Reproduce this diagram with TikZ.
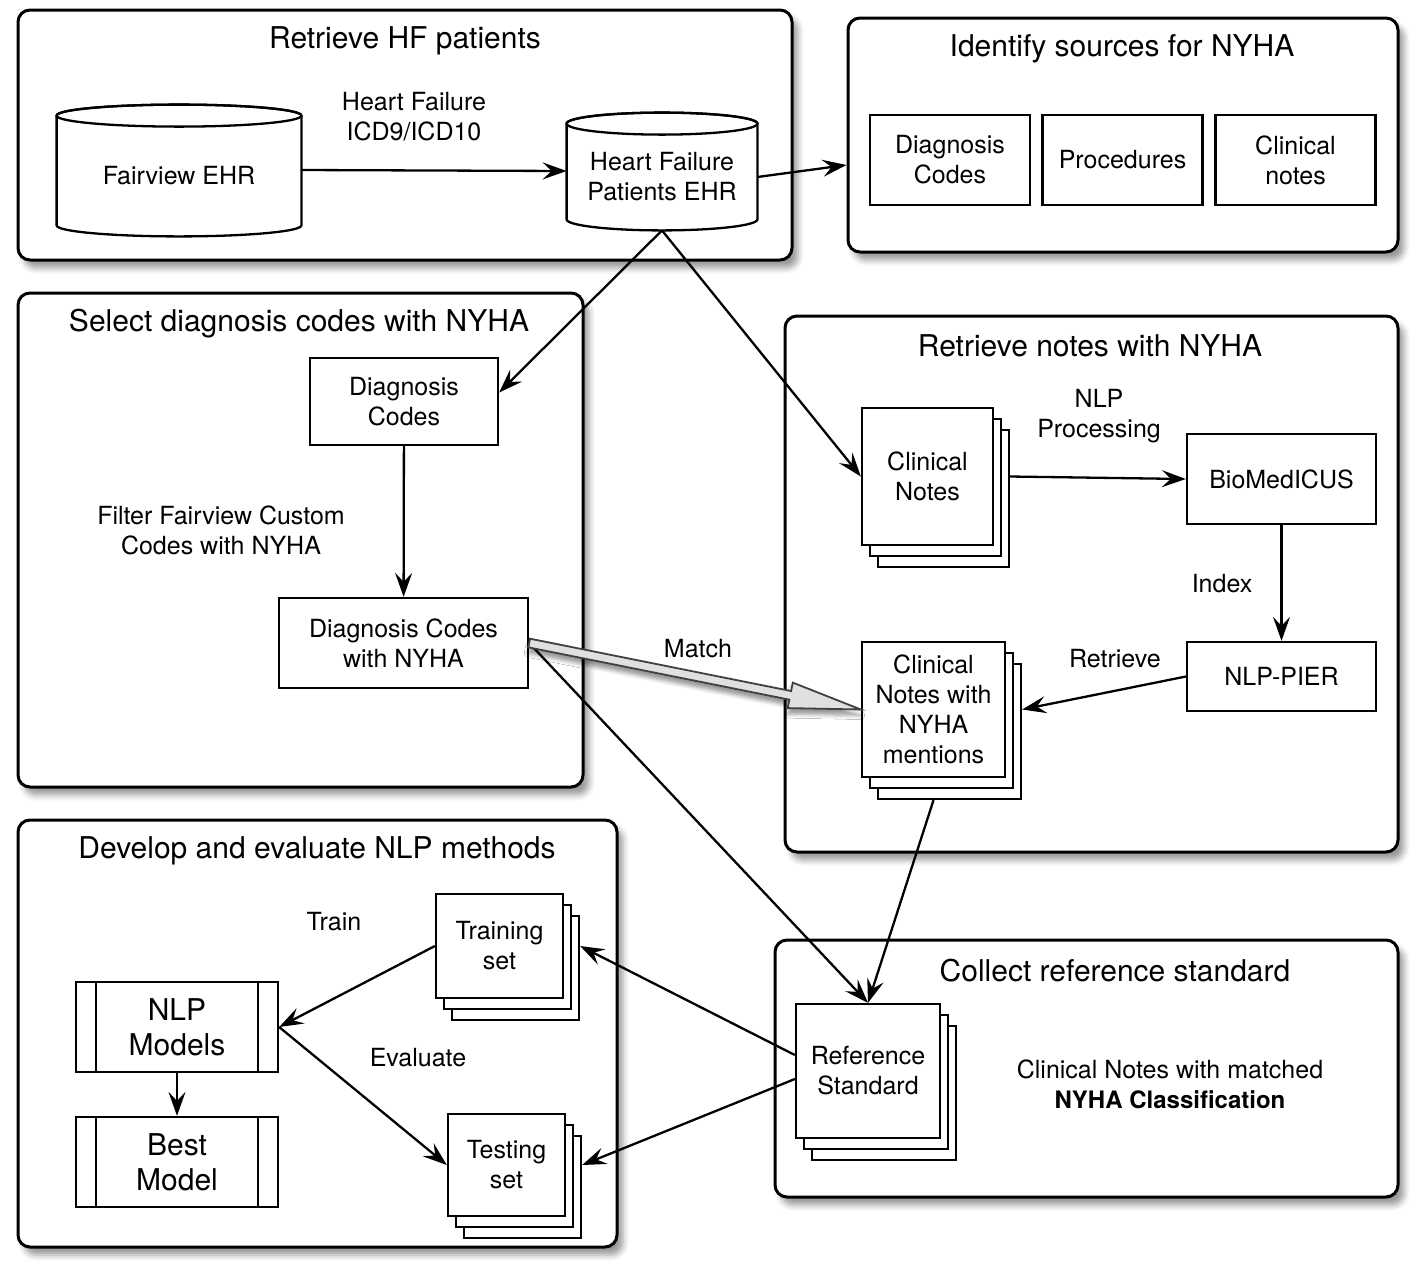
\documentclass[tikz,border=0pt]{standalone}
\usepackage{fontspec}
\setmainfont{TeX Gyre Heros}
\usetikzlibrary{arrows.meta,calc,shadows,shadows.blur}

\tikzset{
  txt/.style={font=\fontsize{12.5}{15}\selectfont, align=center},
  group/.style={draw, fill=white, line width=1.5pt, rounded corners=6pt,
    blur shadow={shadow xshift=3pt, shadow yshift=-4pt, shadow blur radius=3pt}},
  grouptitle/.style={font=\fontsize{15}{18}\selectfont},
  box/.style={txt, draw, fill=white, line width=1.15pt, inner sep=2pt},
  stack/.style={box,
    copy shadow={shadow xshift=8pt, shadow yshift=-11pt, fill=white, draw=black, line width=1.15pt},
    copy shadow={shadow xshift=4pt, shadow yshift=-5.5pt, fill=white, draw=black, line width=1.15pt}},
  db/.style={txt, inner sep=0pt},
  dbline/.style={draw, fill=white, line width=1.15pt},
  process/.style={box, minimum width=101pt, minimum height=45pt,
    font=\fontsize{15}{17.5}\selectfont,
    path picture={
      \draw[line width=1.15pt]
        ([xshift=10pt]path picture bounding box.north west) -- ([xshift=10pt]path picture bounding box.south west)
        ([xshift=-10pt]path picture bounding box.north east) -- ([xshift=-10pt]path picture bounding box.south east);}},
  link/.style={line width=1.15pt, -{Stealth[length=12pt, width=8.5pt, inset=4.5pt]}},
  matcharrow/.style={draw=black!75, fill=black!12, line width=0.9pt, line join=miter,
    blur shadow={shadow xshift=0pt, shadow yshift=-3pt, shadow blur radius=2pt}},
}

% cylinder drawn round a node that covers its body
\newcommand\drawdb[1]{%
  \draw[dbline] let \p1=(#1.north west), \p2=(#1.south east), \n1={(\x2-\x1)/2}, \n2={5.5pt} in
    (\x1,\y1) -- (\x1,{\y2+\n2}) arc[start angle=180, end angle=360, x radius=\n1, y radius=\n2]
    -- (\x2,\y1) arc[start angle=0, end angle=180, x radius=\n1, y radius=\n2] -- cycle;
  \draw[line width=1.15pt] let \p1=(#1.north west), \p2=(#1.north east), \n1={(\x2-\x1)/2} in
    ({(\x1+\x2)/2},\y1) ellipse[x radius=\n1, y radius=5.5pt];
}

\begin{document}
\begin{tikzpicture}[x=0.5pt, y=-0.5pt]
\useasboundingbox (0,0) rectangle (1418,1276);

% --- Group boxes ---
\node[group, minimum width=387pt, minimum height=125pt] (hfbox) at (405,135) {};
\node[group, minimum width=275pt, minimum height=117pt] (srcbox) at (1123,135) {};
\node[group, minimum width=282.5pt, minimum height=247pt] (selbox) at (300.5,540) {};
\node[group, minimum width=306.5pt, minimum height=268pt] (notesbox) at (1091.5,584) {};
\node[group, minimum width=299.5pt, minimum height=213.5pt] (devbox) at (317.5,1033.5) {};
\node[group, minimum width=311.5pt, minimum height=128.5pt] (refbox) at (1086.5,1068.5) {};

\node[grouptitle] (hftitle) at (405,41) {Retrieve HF patients};
\node[grouptitle] (srctitle) at (1122,49) {Identify sources for NYHA};
\node[grouptitle] (seltitle) at (299,324) {Select diagnosis codes with NYHA};
\node[grouptitle] (notestitle) at (1090,346) {Retrieve notes with NYHA};
\node[grouptitle] (devtitle) at (317,851) {Develop and evaluate NLP methods};
\node[grouptitle] (reftitle) at (1115,971) {Collect reference standard};

% --- Retrieve HF patients ---
\node[db, minimum width=122pt, minimum height=60pt] (ehr) at (179,176) {};
\drawdb{ehr}
\node[txt] at (ehr) {Fairview EHR};
\node[db, minimum width=95pt, minimum height=53pt] (hfehr) at (662,177) {};
\drawdb{hfehr}
\node[txt] at (hfehr) {Heart Failure\\Patients EHR};
\node[txt] (icdlabel) at (414,117) {Heart Failure\\ICD9/ICD10};

% --- Identify sources ---
\node[box, minimum width=80pt, minimum height=45pt] (srcdx) at (950,160) {Diagnosis\\Codes};
\node[box, minimum width=80pt, minimum height=45pt] (srcproc) at (1122.5,160) {Procedures};
\node[box, minimum width=80pt, minimum height=45pt] (srcnotes) at (1295.5,160) {Clinical\\notes};

% --- Select diagnosis codes ---
\node[box, minimum width=94pt, minimum height=43.5pt] (dxcodes) at (404,401.5) {Diagnosis\\Codes};
\node[box, minimum width=124.5pt, minimum height=45pt] (dxnyha) at (403.5,643) {Diagnosis Codes\\with NYHA};
\node[txt] (filterlabel) at (221,530) {Filter Fairview Custom\\Codes with NYHA};

% --- Retrieve notes ---
\node[stack, minimum width=65.5pt, minimum height=68.5pt] (clinnotes) at (927.5,476.5) {Clinical\\Notes};
\node[box, minimum width=94.5pt, minimum height=45pt] (biomed) at (1281.5,479) {BioMedICUS};
\node[box, minimum width=94.5pt, minimum height=34.5pt] (nlppier) at (1281.5,676.5) {NLP-PIER};
\node[stack, minimum width=71.5pt, minimum height=67.5pt] (nyhanotes) at (933.5,709.5) {Clinical\\Notes with\\NYHA\\mentions};
\node[txt] (nlplabel) at (1099,416) {NLP\\Processing};
\node[txt] (indexlabel) at (1222,584) {Index};
\node[txt] (retrievelabel) at (1115,659) {Retrieve};
\node[txt] (matchlabel) at (698,649) {Match};

% --- Develop and evaluate ---
\node[stack, minimum width=63.5pt, minimum height=52pt] (training) at (499.5,946) {Training\\set};
\node[stack, minimum width=58.5pt, minimum height=51pt] (testing) at (506.5,1165) {Testing\\set};
\node[process] (nlpmodels) at (177,1027) {NLP\\Models};
\node[process] (bestmodel) at (177,1162) {Best\\Model};
\node[txt] (trainlabel) at (334,922) {Train};
\node[txt] (evallabel) at (418,1058) {Evaluate};

% --- Reference standard ---
\node[stack, minimum width=72pt, minimum height=67pt] (refstd) at (868,1071) {Reference\\Standard};
\node[txt] (matchednote) at (1170,1084) {Clinical Notes with matched\\{\fontsize{12}{15}\selectfont\bfseries NYHA Classification}};

% --- Connectors ---
\draw[link] ([yshift=3pt]ehr.east) -- ([yshift=3pt]hfehr.west);
\draw[link] (hfehr.east) -- ([yshift=-15pt]srcbox.west);
\draw[link] (hfehr.south) -- ([yshift=4.5pt]dxcodes.east);
\draw[link] (hfehr.south) -- (clinnotes.west);
\draw[link] (dxcodes) -- (dxnyha);
\draw[link] ([xshift=8pt]clinnotes.east) -- (biomed.west);
\draw[link] (biomed) -- (nlppier);
\draw[link] (nlppier.west) -- ([xshift=8pt]nyhanotes.east);
\draw[link] (dxnyha.east) -- (refstd.north);
\draw[link] ([yshift=-11pt]nyhanotes.south) -- (refstd.north);
\draw[link] ([yshift=8pt]refstd.west) -- ([xshift=8pt]training.east);
\draw[link] ([yshift=-4pt]refstd.west) -- ([xshift=8pt]testing.east);
\draw[link] (training.west) -- (nlpmodels.east);
\draw[link] (nlpmodels.east) -- (testing.west);
\draw[link] (nlpmodels) -- (bestmodel);

% Match arrow
\draw[matcharrow] let \p1=(dxnyha.east), \p2=(nyhanotes.west),
    \n1={atan2(\y2-\y1,\x2-\x1)}, \n2={veclen(\x2-\x1,\y2-\y1)} in
  [shift={(\p1)}, rotate=\n1]
  (0pt,2.2pt) -- ({\n2-36pt},2.2pt) -- ({\n2-36pt},6.5pt) -- (\n2,0pt)
  -- ({\n2-36pt},-6.5pt) -- ({\n2-36pt},-2.2pt) -- (0pt,-2.2pt) -- cycle;

\end{tikzpicture}
\end{document}
